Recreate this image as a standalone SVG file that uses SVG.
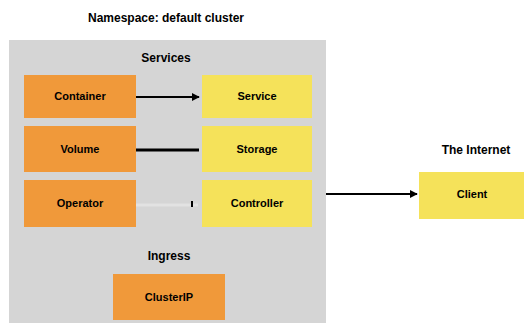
<svg xmlns="http://www.w3.org/2000/svg" width="524" height="323" viewBox="0 0 524 323">
  <defs>
    <style>
      .lbl { font-family: "Liberation Sans", Arial, sans-serif; font-size: 11px; font-weight: bold; fill: #000; text-anchor: middle; }
      .title { font-size: 12px; }
      .box-o { fill: #f0993a; }
      .box-y { fill: #f5e25a; }
      .edge { fill: none; stroke: #000; stroke-width: 2; }
    </style>
    <marker id="arr" viewBox="0 0 10 10" refX="9" refY="5" markerWidth="4" markerHeight="4" orient="auto">
      <path d="M0,0 L10,5 L0,10 z" fill="#000"/>
    </marker>
  </defs>
  <rect width="524" height="323" fill="#fff"/>

  <g id="cluster">
    <rect x="9" y="40" width="317" height="283" fill="#d5d5d5"/>
    <text class="lbl title" x="166" y="22">Namespace: default cluster</text>
    <text class="lbl title" x="166" y="62">Services</text>
    <text class="lbl title" x="169" y="260">Ingress</text>
  </g>

  <g id="n-container">
    <rect class="box-o" x="24" y="75" width="112" height="43"/>
    <text class="lbl" x="80" y="100">Container</text>
  </g>
  <g id="n-volume">
    <rect class="box-o" x="24" y="126" width="112" height="46"/>
    <text class="lbl" x="80" y="153">Volume</text>
  </g>
  <g id="n-operator">
    <rect class="box-o" x="24" y="180" width="112" height="47"/>
    <text class="lbl" x="80" y="207">Operator</text>
  </g>
  <g id="n-svc1">
    <rect class="box-y" x="202" y="75" width="110" height="43"/>
    <text class="lbl" x="257" y="100">Service</text>
  </g>
  <g id="n-svc2">
    <rect class="box-y" x="202" y="126" width="110" height="46"/>
    <text class="lbl" x="257" y="153">Storage</text>
  </g>
  <g id="n-svc3">
    <rect class="box-y" x="202" y="180" width="110" height="47"/>
    <text class="lbl" x="257" y="207">Controller</text>
  </g>
  <g id="n-clusterip">
    <rect class="box-o" x="113" y="274" width="112" height="46"/>
    <text class="lbl" x="169" y="301">ClusterIP</text>
  </g>
  <g id="n-client">
    <text class="lbl title" x="476" y="154">The Internet</text>
    <rect class="box-y" x="419" y="172" width="105" height="47"/>
    <text class="lbl" x="472" y="198">Client</text>
  </g>

  <g id="connectors">
    <line class="edge" x1="136" y1="97" x2="199" y2="97" marker-end="url(#arr)"/>
    <line class="edge" x1="136" y1="150" x2="199" y2="150" style="stroke-width:3"/>
    <line class="edge" x1="136" y1="205" x2="198" y2="205" style="stroke:#e2e2e2;stroke-width:3"/>
    <line class="edge" x1="192" y1="201" x2="192" y2="207"/>
    <line class="edge" x1="326" y1="194" x2="417" y2="194" marker-end="url(#arr)"/>
  </g>
</svg>
